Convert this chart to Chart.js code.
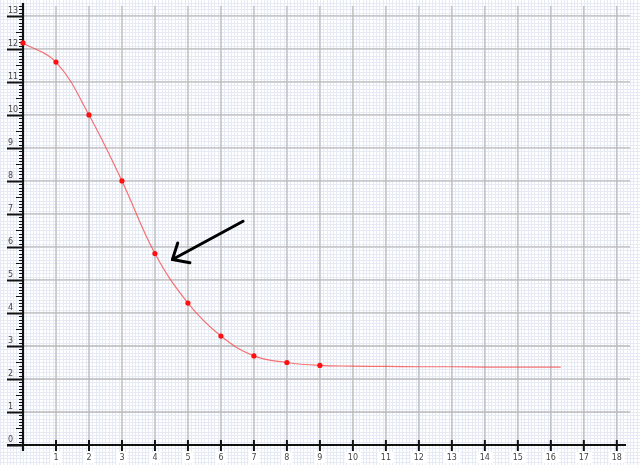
<!DOCTYPE html>
<html>
<head>
<meta charset="utf-8">
<script src="https://cdn.jsdelivr.net/npm/chart.js@4/dist/chart.umd.min.js"></script>
<style>
  html, body { margin: 0; padding: 0; background: #fff; }
  canvas { display: block; }
</style>
</head>
<body>
<canvas id="graph" width="640" height="465"></canvas>
<script>
const xLabels = [1, 2, 3, 4, 5, 6, 7, 8, 9, 10, 11, 12, 13, 14, 15, 16, 17, 18]
const yLabels = [0, 1, 2, 3, 4, 5, 6, 7, 8, 9, 10, 11, 12, 13]

// measured points (drawn with a dot)
const markX = [0, 1, 2, 3, 4, 5, 6, 7, 8, 9]
const markY = [12.18, 11.6, 10.0, 8.0, 5.8, 4.3, 3.3, 2.7, 2.5, 2.41]

// curve keeps going flat after the last dot
const tailX = [10, 11, 12, 13, 14, 15, 16.3]
const tailY = [2.39, 2.38, 2.37, 2.37, 2.36, 2.36, 2.36]

// arrow annotation, in axis units
const arrowShaft = [[6.67, 6.78], [4.53, 5.62]]
const arrowHead = [[4.69, 6.12], [4.53, 5.62], [5.06, 5.52]]

const points = markX.map((x, i) => ({ x: x, y: markY[i] }))
  .concat(tailX.map((x, i) => ({ x: x, y: tailY[i] })))

const line = (ctx, x1, y1, x2, y2) => {
  ctx.beginPath()
  ctx.moveTo(x1, y1)
  ctx.lineTo(x2, y2)
  ctx.stroke()
}

const paper = {
  id: 'paper',
  beforeDraw(chart) {
    const { ctx, chartArea: area, scales: { x, y } } = chart
    const W = chart.width, H = chart.height
    ctx.save()
    ctx.fillStyle = '#fff'
    ctx.fillRect(0, 0, W, H)

    // fine blue grid, every 0.1
    ctx.strokeStyle = '#e6eaf5'
    ctx.lineWidth = 1
    for (let i = -10; i <= 200; i++) {
      const px = Math.round(x.getPixelForValue(i / 10)) + 0.5
      if (px < 0 || px > W) continue
      line(ctx, px, 0, px, H)
    }
    for (let i = -10; i <= 150; i++) {
      const py = Math.round(y.getPixelForValue(i / 10)) + 0.5
      if (py < 0 || py > H) continue
      line(ctx, 0, py, W, py)
    }

    // unit grid
    ctx.strokeStyle = '#bababa'
    ctx.lineWidth = 1.3
    xLabels.forEach(v => {
      const px = x.getPixelForValue(v)
      line(ctx, px, area.top, px, y.getPixelForValue(0))
    })
    yLabels.slice(1).forEach(v => {
      const py = y.getPixelForValue(v)
      line(ctx, x.getPixelForValue(0), py, area.right, py)
    })
    ctx.restore()
  },
  beforeDatasetsDraw(chart) {
    const { ctx, chartArea: area, scales: { x, y } } = chart
    const x0 = x.getPixelForValue(0)
    const y0 = y.getPixelForValue(0)
    ctx.save()
    ctx.strokeStyle = '#111'

    // y ticks: 0.1 small, 0.5 medium, 1 long
    for (let i = 0; i <= 133; i++) {
      const py = Math.round(y.getPixelForValue(i / 10)) + 0.5
      const len = i % 10 === 0 ? 16 : i % 5 === 0 ? 7 : 4
      ctx.lineWidth = i % 10 === 0 ? 2 : 1
      line(ctx, x0 - len, py, x0, py)
    }
    // x ticks
    ctx.lineWidth = 2
    xLabels.forEach(v => {
      const px = x.getPixelForValue(v)
      line(ctx, px, y0 - 5, px, y0 + 6)
    })

    // axes
    ctx.lineWidth = 2.2
    line(ctx, x0, 3, x0, y0 + 6)
    line(ctx, 7, y0, area.right - 4, y0)

    // labels
    ctx.font = '8px "DejaVu Sans"'
    ctx.fillStyle = '#444'
    ctx.textAlign = 'left'
    ctx.textBaseline = 'middle'
    yLabels.forEach(v => {
      ctx.fillText(String(v), 8, y.getPixelForValue(v) - 5)
    })
    ctx.textAlign = 'center'
    xLabels.forEach(v => {
      const px = x.getPixelForValue(v)
      const w = ctx.measureText(String(v)).width + 6
      ctx.fillStyle = '#fff'
      ctx.fillRect(px - w / 2, y0 + 7, w, 11)
      ctx.fillStyle = '#444'
      ctx.fillText(String(v), px, y0 + 12.5)
    })
    ctx.restore()
  },
  afterDatasetsDraw(chart) {
    const { ctx, scales: { x, y } } = chart
    const px = p => [x.getPixelForValue(p[0]), y.getPixelForValue(p[1])]
    ctx.save()
    ctx.strokeStyle = '#000'
    ctx.lineWidth = 3
    ctx.lineCap = 'round'
    ctx.lineJoin = 'round'
    const [a, b] = arrowShaft.map(px)
    line(ctx, a[0], a[1], b[0], b[1])
    ctx.beginPath()
    arrowHead.map(px).forEach((p, i) => i ? ctx.lineTo(p[0], p[1]) : ctx.moveTo(p[0], p[1]))
    ctx.stroke()
    ctx.restore()
  }
}

new Chart(document.getElementById('graph'), {
  type: 'line',
  data: {
    datasets: [{
      data: points,
      borderColor: 'rgba(245, 70, 70, 0.75)',
      borderWidth: 1.2,
      tension: 0.4,
      pointRadius: ctx => ctx.dataIndex < markX.length ? 2.6 : 0,
      pointBackgroundColor: '#ff1010',
      pointBorderWidth: 0,
      clip: false
    }]
  },
  options: {
    responsive: false,
    animation: false,
    devicePixelRatio: 1,
    layout: { padding: { left: 23, right: 10, top: 6, bottom: 20 } },
    plugins: { legend: { display: false }, tooltip: { enabled: false } },
    scales: {
      x: { type: 'linear', min: 0, max: 18.4, display: false },
      y: { type: 'linear', min: 0, max: 13.3, display: false }
    }
  },
  plugins: [paper]
})
</script>
</body>
</html>
